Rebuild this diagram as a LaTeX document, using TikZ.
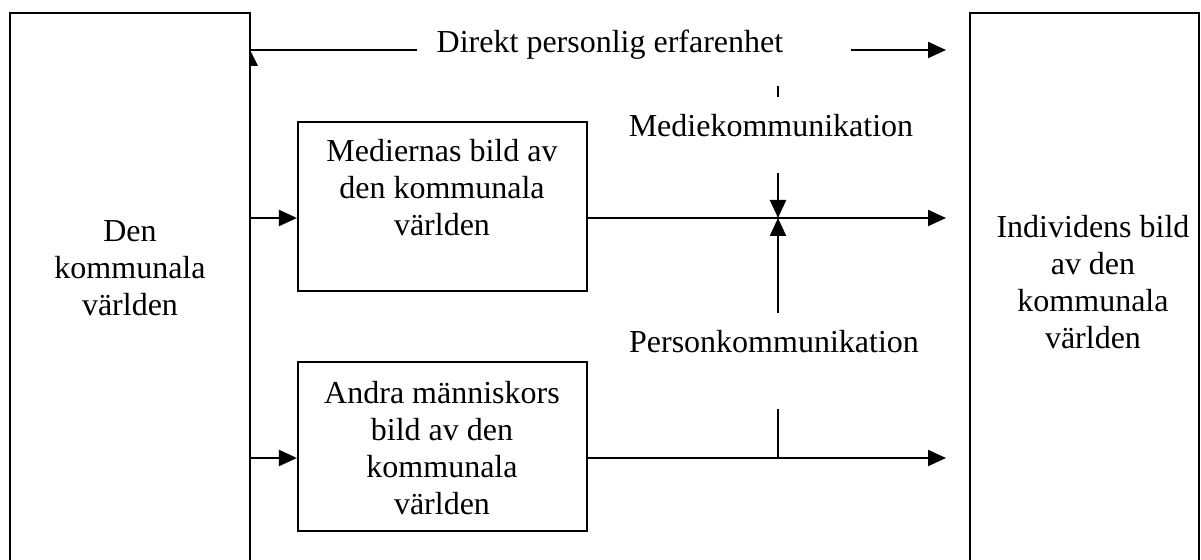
\documentclass[tikz,border=0pt]{standalone}
\usepackage{fontspec}
\setmainfont{Liberation Serif}
\usetikzlibrary{arrows.meta}
\begin{document}
\begin{tikzpicture}[x=0.5pt,y=-0.5pt, line width=1.1pt,
  >={Triangle[length=9pt,width=8pt]},
  lbl/.style={font=\fontsize{16}{18.5}\selectfont, inner sep=0pt, align=center},
  midbox/.style={draw, minimum width=144.5pt, minimum height=84.5pt, inner sep=0pt}]
\useasboundingbox (0,0) rectangle (1201,560);
% big open boxes
\draw (10,560) -- (10,13) -- (250,13) -- (250,560);
\draw (970,560) -- (970,13) -- (1199,13) -- (1199,560);
\node[lbl] (world) at (130,268) {Den\\kommunala\\världen};
\node[lbl] (indiv) at (1093,282) {Individens bild\\av den\\kommunala\\världen};
% middle boxes
\node[midbox] (mb) at (442.5,206.5) {};
\node[lbl] (mbt) at (442,188) {Mediernas bild av\\den kommunala\\världen};
\node[midbox] (ob) at (442.5,446.5) {};
\node[lbl] (obt) at (442,448) {Andra människors\\bild av den\\kommunala\\världen};
% coordinates
\coordinate (L1) at (250,218);
\coordinate (L2) at (250,458);
\coordinate (R1) at (946,218);
\coordinate (R2) at (946,458);
\coordinate (X1) at (778,218);
\coordinate (X2) at (778,458);
\coordinate (m1) at (778,173);
\coordinate (p1) at (778,313);
\coordinate (t1) at (778,86);
\coordinate (t2) at (778,97);
\coordinate (b1) at (778,409);
\coordinate (T0) at (250,50);
\coordinate (T1) at (417,50);
\coordinate (T2) at (851,50);
\coordinate (T3) at (946,50);
% labels
\node[lbl, anchor=base] (direkt) at (610,53) {Direkt personlig erfarenhet};
\node[lbl, anchor=base] (medie) at (771,137) {Mediekommunikation};
\node[lbl, anchor=base] (person) at (774,353) {Personkommunikation};
% connectors
\draw[->] (L1) -- (L1 -| mb.west);
\draw[->] (L2) -- (L2 -| ob.west);
\draw[->] (L1 -| mb.east) -- (R1);
\draw[->] (L2 -| ob.east) -- (R2);
\draw[->] (m1) -- (X1);
\draw[->] (p1) -- (X1);
\draw (t1) -- (t2);
\draw (b1) -- (X2);
\draw (T0) -- (T1);
\fill (250,50) -- (258,66) -- (250,66) -- cycle;
\draw[->] (T2) -- (T3);
\end{tikzpicture}
\end{document}
